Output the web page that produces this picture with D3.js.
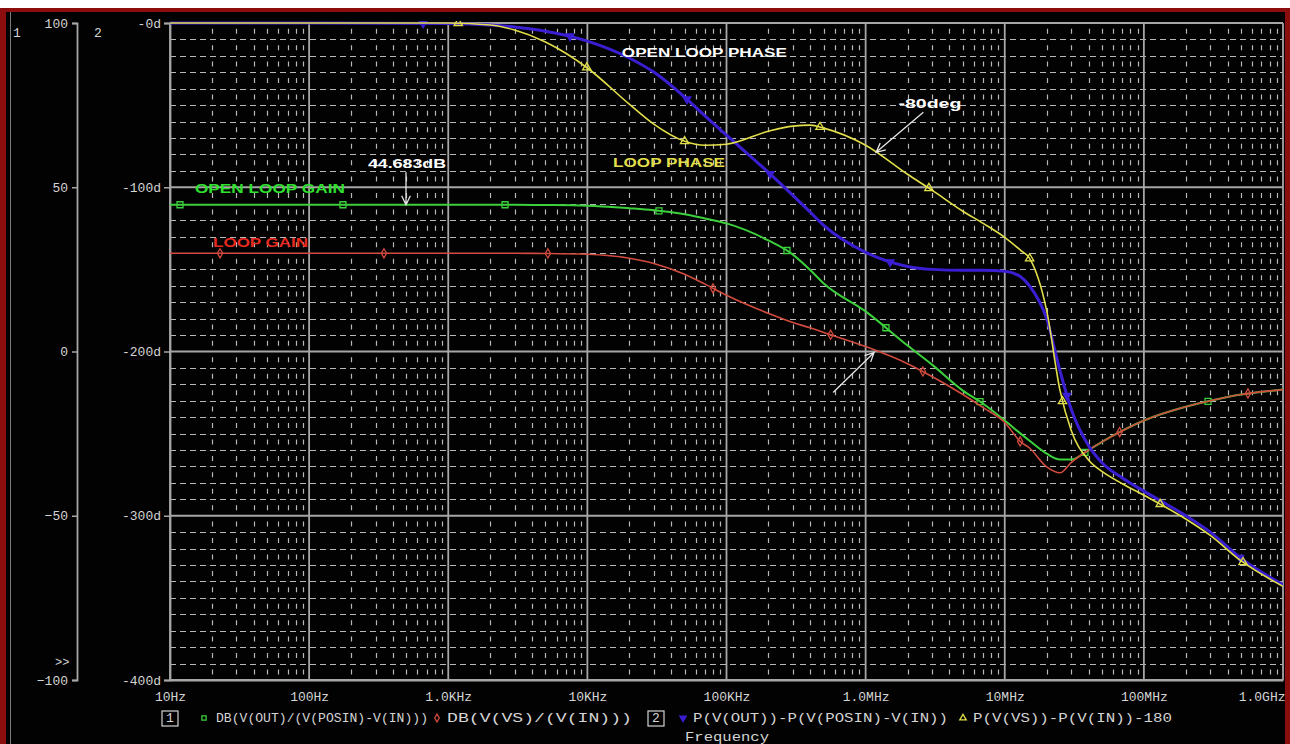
<!DOCTYPE html>
<html>
<head>
<meta charset="utf-8">
<script src="https://cdn.jsdelivr.net/npm/d3@7"></script>
<style>
body { margin: 0; background: #fff; }
svg { display: block; }
</style>
</head>
<body>
<svg width="1290" height="744"></svg>
<script>
const freqs = [10, 100, 1e3, 2e3, 3e3, 5e3, 1e4, 2e4, 3e4, 5e4, 7e4, 1e5, 2e5, 3e5, 4e5, 5e5,
    1e6, 2e6, 3e6, 5e6, 7e6, 1e7, 1.3e7, 1.5e7, 2e7, 2.5e7, 3e7, 4e7, 5e7, 7e7, 1e8, 2e8, 3e8, 5e8, 1e9];

// trace 1 (dB): DB(V(OUT)/(V(POSIN)-V(IN)))  -> open loop gain
const openLoopGain = [44.68, 44.68, 44.68, 44.68, 44.67, 44.6, 44.4, 43.6, 43.0, 41.8, 40.5, 39.0, 33.8, 29.5, 24.8, 20.7,
    12.2, 1.8, -4.0, -11.9, -15.9, -21.0, -25.0, -27.1, -31.1, -32.9, -32.9, -30.0, -27.5, -24.1, -21.0, -16.8, -15.0, -13.1, -11.6];
// trace 2 (dB): DB(V(VS)/(V(IN)))  -> loop gain
const loopGain = [29.9, 29.9, 29.9, 29.9, 29.9, 29.85, 29.6, 28.4, 26.8, 23.5, 20.5, 17.1, 11.6, 8.8, 7.2, 5.8,
    1.5, -3.7, -7.6, -13.1, -17.1, -21.6, -27.5, -29.3, -35.1, -36.9, -33.8, -30.0, -27.5, -24.1, -21.0, -16.8, -15.0, -13.1, -11.6];
// trace 3 (deg): P(V(OUT))-P(V(POSIN)-V(IN))  -> open loop phase
const openLoopPhase = [0, 0, -0.3, -1.2, -2.4, -5, -11, -21.3, -29.9, -45.1, -56.5, -68.3, -90.9, -104.9, -115.2, -123.2,
    -139.6, -148.2, -150, -150.6, -150.6, -151.2, -154.5, -159.8, -180, -212, -235, -257.3, -267.7, -277, -285, -300, -310, -326, -342];
// trace 4 (deg): P(V(VS))-P(V(IN))-180  -> loop phase
const loopPhase = [0, 0, 0, -1.2, -4.3, -11.6, -27.4, -49.4, -61.6, -72, -74.4, -73.8, -65.9, -62.8, -62.2, -64,
    -74.4, -92.1, -101.8, -114.6, -122, -130.5, -138.4, -143, -175, -224, -248, -266, -273, -280.5, -287.5, -302, -312, -327.5, -343];

// marker frequencies for each trace
const gainMarks = [11.8, 175, 2.56e3, 32.7e3, 272e3, 1.4e6, 6.64e6, 37.7e6, 289e6];
const loopGainMarks = [22.9, 345, 5.2e3, 80e3, 560e3, 2.58e6, 12.9e6, 67e6, 560e6];
const phaseMarks = [660, 7.5e3, 52e3, 206e3, 1.5e6, 28e6, 490e6];
const loopPhaseMarks = [1.18e3, 9.9e3, 50e3, 470e3, 2.85e6, 15.1e6, 26e6, 131e6, 516e6];

// axis ticks
const freqTicks = [10, 100, 1e3, 1e4, 1e5, 1e6, 1e7, 1e8, 1e9];
const freqTickLabels = ['10Hz', '100Hz', '1.0KHz', '10KHz', '100KHz', '1.0MHz', '10MHz', '100MHz', '1.0GHz'];
const dbTicks = [100, 50, 0, -50, -100];
const degTicks = [0, -100, -200, -300, -400];
const degTickLabels = ['-0d', '-100d', '-200d', '-300d', '-400d'];

const legendLabels = ['DB(V(OUT)/(V(POSIN)-V(IN)))', 'DB(V(VS)/(V(IN)))', 'P(V(OUT))-P(V(POSIN)-V(IN))', 'P(V(VS))-P(V(IN))-180'];

// annotations: text, frequency, value, which axis
const noteTexts = ['OPEN LOOP PHASE', 'LOOP PHASE', '-80deg', 'OPEN LOOP GAIN', 'LOOP GAIN', '44.683dB'];
const noteFreqs = [17.7e3, 15.3e3, 1.72e6, 15.1, 20.4, 265];
const noteValues = [-20.7, -87.8, -51.8, 48.2, 31.7, 55.8];
const noteAxis = ['deg', 'deg', 'deg', 'db', 'db', 'db'];

function draw() {
    const width = 1290;
    const height = 744;
    const plot = { left: 170, right: 1283, top: 23, bottom: 680 };
    const svg = d3.select('svg');
    svg.selectAll('*').remove();

    const colors = {
        green: '#3cd03c',
        red: '#d24b3e',
        blue: '#3a1ed2',
        yellow: '#e2df4a',
        text: '#d4d4d4',
        grid: '#b8b8b8',
        major: '#a6a6a6'
    };
    const mono = "'Liberation Mono', 'DejaVu Sans Mono', monospace";
    const sans = "'Liberation Sans', Arial, sans-serif";

    const x = d3.scaleLog().domain([10, 1e9]).range([plot.left, plot.right]);
    const yDb = d3.scaleLinear().domain([-100, 100]).range([plot.bottom, plot.top]);
    const yDeg = d3.scaleLinear().domain([-400, 0]).range([plot.bottom, plot.top]);

    // window frame
    svg.append('rect').attr('width', width).attr('height', height).attr('fill', '#fff');
    svg.append('rect').attr('x', 0).attr('y', 8).attr('width', width).attr('height', height - 8).attr('fill', '#8c0d0d');
    svg.append('rect').attr('x', 6).attr('y', 12).attr('width', 1279).attr('height', height - 12).attr('fill', '#020202');
    svg.append('line').attr('x1', 10.5).attr('x2', 10.5).attr('y1', 12).attr('y2', height)
        .attr('stroke', '#7a7a7a').attr('stroke-width', 1);

    // Grid
    const grid = svg.append('g');
    const minorFreqs = d3.range(1, 9).flatMap(k => d3.range(2, 10).map(m => m * Math.pow(10, k)));
    const stepPx = Math.abs(yDeg(-10) - yDeg(0));
    grid.selectAll('.vminor')
        .data(minorFreqs)
        .join('line')
        .attr('x1', d => Math.round(x(d)) + 0.5)
        .attr('x2', d => Math.round(x(d)) + 0.5)
        .attr('y1', plot.top)
        .attr('y2', plot.bottom)
        .attr('stroke', colors.grid)
        .attr('stroke-width', 1.2)
        .attr('stroke-dasharray', `5,${(stepPx - 5).toFixed(2)}`)
        .attr('stroke-dashoffset', (stepPx - 5.7).toFixed(2));
    const degMinor = d3.range(-390, 0, 10).filter(d => d % 100 !== 0);
    grid.selectAll('.hminor')
        .data(degMinor)
        .join('line')
        .attr('x1', plot.left)
        .attr('x2', plot.right)
        .attr('y1', d => Math.round(yDeg(d)) + 0.5)
        .attr('y2', d => Math.round(yDeg(d)) + 0.5)
        .attr('stroke', colors.grid)
        .attr('stroke-width', 1.2)
        .attr('stroke-dasharray', '6,4');
    grid.selectAll('.vmajor')
        .data(freqTicks)
        .join('line')
        .attr('x1', d => x(d))
        .attr('x2', d => x(d))
        .attr('y1', plot.top)
        .attr('y2', plot.bottom)
        .attr('stroke', colors.major)
        .attr('stroke-width', 1.8);
    grid.selectAll('.hmajor')
        .data(degTicks)
        .join('line')
        .attr('x1', plot.left)
        .attr('x2', plot.right)
        .attr('y1', d => yDeg(d))
        .attr('y2', d => yDeg(d))
        .attr('stroke', colors.major)
        .attr('stroke-width', 1.8);

    // Axes
    const styleAxis = g => {
        g.selectAll('path').attr('stroke', colors.major).attr('stroke-width', 1.8);
        g.selectAll('line').attr('stroke', colors.major).attr('stroke-width', 1.5);
        g.selectAll('text').attr('fill', colors.text).style('font-family', mono).style('font-size', '13px');
    };
    svg.append('g')
        .attr('transform', 'translate(77, 0)')
        .call(d3.axisLeft(yDb).tickValues(dbTicks).tickSize(5).tickSizeOuter(5).tickPadding(4))
        .call(styleAxis);
    svg.append('g')
        .attr('transform', `translate(${plot.left}, 0)`)
        .call(d3.axisLeft(yDeg).tickValues(degTicks).tickFormat((d, i) => degTickLabels[i]).tickSize(6).tickSizeOuter(6).tickPadding(3))
        .call(styleAxis);
    const xAxisG = svg.append('g')
        .attr('transform', `translate(0, ${plot.bottom})`)
        .call(d3.axisBottom(x).tickValues(freqTicks).tickFormat((d, i) => freqTickLabels[i]).tickSize(0).tickPadding(12))
        .call(styleAxis);
    // last label sits flush with the right edge
    xAxisG.selectAll('.tick text')
        .filter(d => d === 1e9)
        .attr('text-anchor', 'end')
        .attr('dx', 2);

    svg.append('text').text('1').attr('x', 13).attr('y', 37)
        .attr('fill', colors.text).style('font-family', mono).style('font-size', '13px');
    svg.append('text').text('2').attr('x', 94).attr('y', 37)
        .attr('fill', colors.text).style('font-family', mono).style('font-size', '13px');
    svg.append('text').text('>>').attr('x', 55).attr('y', 666)
        .attr('fill', colors.text).style('font-family', mono).style('font-size', '12px');

    // Traces
    svg.append('clipPath').attr('id', 'plotclip')
        .append('rect').attr('x', plot.left).attr('y', plot.top - 2)
        .attr('width', plot.right - plot.left).attr('height', plot.bottom - plot.top + 2);

    const traces = [
        { values: openLoopGain, scale: yDb, color: colors.green, width: 2, marks: gainMarks, symbol: d3.symbolSquare, size: 36, fill: 'none', rotate: 0 },
        { values: loopGain, scale: yDb, color: colors.red, width: 1.6, marks: loopGainMarks, symbol: d3.symbolDiamond, size: 24, fill: 'none', rotate: 0 },
        { values: openLoopPhase, scale: yDeg, color: colors.blue, width: 3, marks: phaseMarks, symbol: d3.symbolTriangle, size: 26, fill: colors.blue, rotate: 180 },
        { values: loopPhase, scale: yDeg, color: colors.yellow, width: 1.6, marks: loopPhaseMarks, symbol: d3.symbolTriangle, size: 30, fill: 'none', rotate: 0 }
    ];

    const traceG = svg.append('g').attr('clip-path', 'url(#plotclip)');
    traces.forEach(t => {
        const pts = freqs.map((f, i) => [f, t.values[i]]);
        const line = d3.line()
            .x(d => x(d[0]))
            .y(d => t.scale(d[1]))
            .curve(d3.curveMonotoneX);
        const path = traceG.append('path')
            .datum(pts)
            .attr('d', line)
            .attr('fill', 'none')
            .attr('stroke', t.color)
            .attr('stroke-width', t.width)
            .attr('stroke-linejoin', 'round');

        // place markers on the drawn curve
        const node = path.node();
        const len = node.getTotalLength();
        const pointAt = px => {
            let lo = 0, hi = len;
            for (let k = 0; k < 40; k++) {
                const mid = (lo + hi) / 2;
                if (node.getPointAtLength(mid).x < px) lo = mid; else hi = mid;
            }
            return node.getPointAtLength(lo);
        };
        traceG.selectAll(null)
            .data(t.marks)
            .join('path')
            .attr('d', d3.symbol().type(t.symbol).size(t.size))
            .attr('transform', d => {
                const p = pointAt(x(d));
                return `translate(${p.x},${p.y}) rotate(${t.rotate})`;
            })
            .attr('fill', t.fill)
            .attr('stroke', t.color)
            .attr('stroke-width', 1.3);
    });

    // Annotations
    const noteColors = ['#ffffff', colors.yellow, '#ffffff', '#2fe02f', '#e82a20', '#ffffff'];
    const noteWidths = [165, 112, 63, 150, 95, 78];
    svg.selectAll('.note')
        .data(noteTexts)
        .join('text')
        .attr('x', (d, i) => x(noteFreqs[i]))
        .attr('y', (d, i) => (noteAxis[i] === 'deg' ? yDeg : yDb)(noteValues[i]))
        .attr('textLength', (d, i) => noteWidths[i])
        .attr('lengthAdjust', 'spacingAndGlyphs')
        .attr('fill', (d, i) => noteColors[i])
        .style('font-family', sans)
        .style('font-weight', 'bold')
        .style('font-size', '13px')
        .text(d => d);

    // Arrows pointing at the curves
    const arrows = [
        { from: [497, 54.6], to: [497, 44.683], scale: yDb },
        { from: [2.6e6, -54.3], to: [1.19e6, -78.7], scale: yDeg },
        { from: [584e3, -12.5], to: [1.15e6, -0.3], scale: yDb }
    ];
    arrows.forEach(a => {
        const x1 = x(a.from[0]), y1 = a.scale(a.from[1]);
        const x2 = x(a.to[0]), y2 = a.scale(a.to[1]);
        const ang = Math.atan2(y2 - y1, x2 - x1);
        const head = 10, spread = 0.45;
        svg.append('path')
            .attr('d', `M${x1},${y1}L${x2},${y2}` +
                `M${x2 - head * Math.cos(ang - spread)},${y2 - head * Math.sin(ang - spread)}L${x2},${y2}` +
                `L${x2 - head * Math.cos(ang + spread)},${y2 - head * Math.sin(ang + spread)}`)
            .attr('fill', 'none')
            .attr('stroke', '#e6e6e6')
            .attr('stroke-width', 1.3);
    });

    // Legend
    const legendY = 722;
    const boxes = [{ label: '1', x: 162 }, { label: '2', x: 648 }];
    boxes.forEach(b => {
        svg.append('rect').attr('x', b.x).attr('y', legendY - 11).attr('width', 16).attr('height', 15)
            .attr('fill', 'none').attr('stroke', colors.text).attr('stroke-width', 1.2);
        svg.append('text').text(b.label).attr('x', b.x + 8).attr('y', legendY)
            .attr('text-anchor', 'middle').attr('fill', colors.text)
            .style('font-family', mono).style('font-size', '13px');
    });
    const legendSym = [204, 437, 683, 963];
    const legendTextX = [216, 447, 693, 973];
    const legendTextW = [212, 185, 255, 199];
    traces.forEach((t, i) => {
        svg.append('path')
            .attr('d', d3.symbol().type(t.symbol).size(18))
            .attr('transform', `translate(${legendSym[i]},${legendY - 4}) rotate(${t.rotate})`)
            .attr('fill', t.fill)
            .attr('stroke', t.color)
            .attr('stroke-width', 1.3);
        svg.append('text')
            .text(legendLabels[i])
            .attr('x', legendTextX[i])
            .attr('y', legendY)
            .attr('textLength', legendTextW[i])
            .attr('lengthAdjust', 'spacingAndGlyphs')
            .attr('fill', colors.text)
            .style('font-family', mono)
            .style('font-size', '13px');
    });
    svg.append('text').text('Frequency')
        .attr('x', 685).attr('y', 741)
        .attr('textLength', 84).attr('lengthAdjust', 'spacingAndGlyphs')
        .attr('fill', colors.text)
        .style('font-family', mono).style('font-size', '13px');
}

window.addEventListener('load', draw);
</script>
</body>
</html>
